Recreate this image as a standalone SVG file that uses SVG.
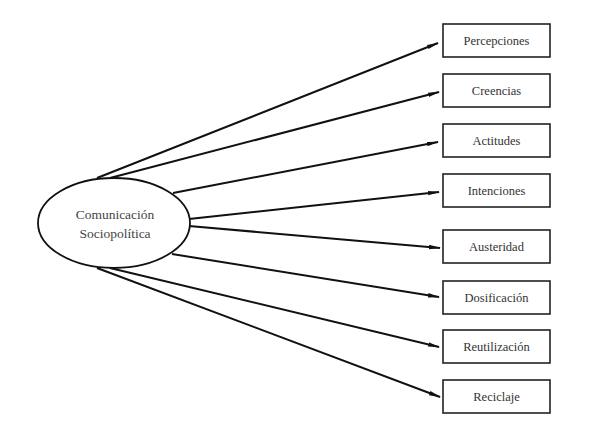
<svg xmlns="http://www.w3.org/2000/svg" width="589" height="425" viewBox="0 0 589 425">
<style>
.box{fill:#fff;stroke:#222;stroke-width:1.6}
.lbl{font-family:"Liberation Serif",serif;font-size:12.5px;fill:#333;text-anchor:middle}
.ctr{font-family:"Liberation Serif",serif;font-size:13.5px;fill:#444;text-anchor:middle}
.ln{stroke:#111;stroke-width:2;fill:none;marker-end:url(#ah)}
</style>
<defs>
<marker id="ah" markerWidth="12" markerHeight="6" refX="11" refY="3" orient="auto" markerUnits="userSpaceOnUse">
<path d="M0,0.8 L12,3 L0,5.2 Z" fill="#111"/>
</marker>
</defs>
<rect width="589" height="425" fill="#fff"/>
<g id="connectors">
<line class="ln" x1="97" y1="178" x2="438" y2="43"/>
<line class="ln" x1="110" y1="178" x2="439" y2="92"/>
<line class="ln" x1="173" y1="193" x2="438" y2="142"/>
<line class="ln" x1="189" y1="219" x2="439" y2="192"/>
<line class="ln" x1="189" y1="226" x2="440" y2="248"/>
<line class="ln" x1="172" y1="254" x2="439" y2="297"/>
<line class="ln" x1="110" y1="268" x2="439" y2="347"/>
<line class="ln" x1="97" y1="268" x2="440" y2="397"/>
</g>
<g id="center">
<ellipse cx="114" cy="223" rx="76" ry="45" fill="#fff" stroke="#111" stroke-width="1.8"/>
<text class="ctr" x="115" y="219">Comunicación</text>
<text class="ctr" x="115" y="238">Sociopolítica</text>
</g>
<g id="n1"><rect class="box" x="443" y="24" width="107" height="33"/><text class="lbl" x="496.5" y="45">Percepciones</text></g>
<g id="n2"><rect class="box" x="443" y="74" width="107" height="33"/><text class="lbl" x="496.5" y="95">Creencias</text></g>
<g id="n3"><rect class="box" x="443" y="124" width="107" height="33"/><text class="lbl" x="496.5" y="145">Actitudes</text></g>
<g id="n4"><rect class="box" x="443" y="174" width="107" height="33"/><text class="lbl" x="496.5" y="195">Intenciones</text></g>
<g id="n5"><rect class="box" x="443" y="230" width="107" height="33"/><text class="lbl" x="496.5" y="251">Austeridad</text></g>
<g id="n6"><rect class="box" x="443" y="281" width="107" height="33"/><text class="lbl" x="496.5" y="302">Dosificación</text></g>
<g id="n7"><rect class="box" x="443" y="330" width="107" height="33"/><text class="lbl" x="496.5" y="351">Reutilización</text></g>
<g id="n8"><rect class="box" x="443" y="380" width="107" height="33"/><text class="lbl" x="496.5" y="401">Reciclaje</text></g>
</svg>
